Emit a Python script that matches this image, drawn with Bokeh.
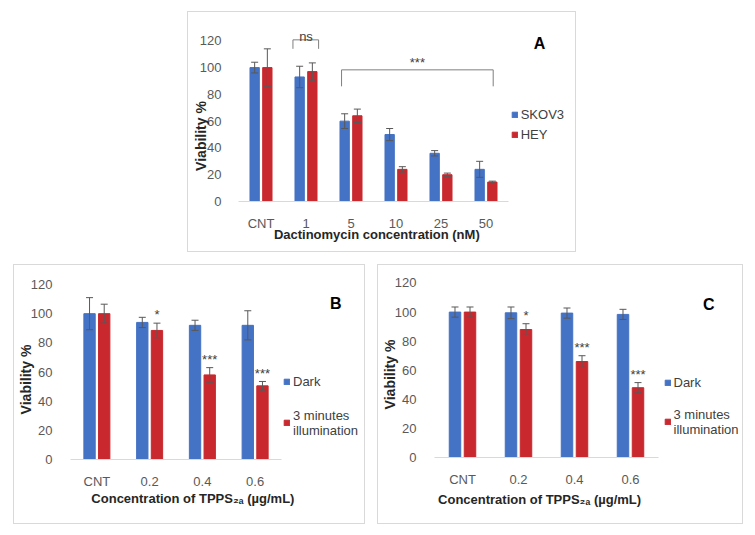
import math
from bokeh.plotting import figure
from bokeh.models import (Range1d, FixedTicker, ColumnDataSource, Whisker, TeeHead,
                          Legend, LegendItem, Label, Spacer, LinearAxis)
from bokeh.layouts import column, row
from bokeh.embed import file_html
from bokeh.resources import INLINE
from bokeh.core.properties import value

# ---------------- data ----------------
a_categories = ["CNT", "1", "5", "10", "25", "50"]
a_skov3 = [100, 93, 60, 50, 36, 24]
a_skov3_err = [4, 8, 5.5, 4.5, 2, 6]
a_hey = [100, 97, 64, 24, 20, 14.5]
a_hey_err = [14, 6.5, 5, 2, 1.2, 0.7]
a_series = ["SKOV3", "HEY"]

b_categories = ["CNT", "0.2", "0.4", "0.6"]
b_dark = [100, 94, 92, 92]
b_dark_err = [11, 3.5, 3.5, 10]
b_light = [100, 88.5, 58, 50.5]
b_light_err = [6.5, 5, 5, 3]
b_stars = ["", "*", "***", "***"]

c_categories = ["CNT", "0.2", "0.4", "0.6"]
c_dark = [100, 99.5, 99.3, 98.4]
c_dark_err = [3.5, 4, 3.5, 3.5]
c_light = [100, 88, 66, 48]
c_light_err = [3.5, 4, 4, 3.5]
c_stars = ["", "*", "***", "***"]

bc_series = ["Dark", "3 minutes\nillumination"]
y_ticks = [0, 20, 40, 60, 80, 100, 120]

BLUE = "#4472C4"
RED = "#C8282E"
ERR = "#595959"
TICK = "#595959"
TITLE = "#262626"
FONT = "Liberation Sans"
TPPS_LABEL = "Concentration of  TPPS\u2082\u2090  (\u00b5g/mL)"


class Panel:
    """A panel whose frame fills its whole box; geometry given in pixels."""

    def __init__(self, cats, W, H, ox, oy, ppc, ppu):
        self.W, self.H, self.ox, self.oy, self.ppc, self.ppu = W, H, ox, oy, ppc, ppu
        self.n = len(cats)
        x0 = -0.5 - ox / ppc
        x1 = -0.5 + (W - ox) / ppc
        y0 = -(H - oy) / ppu
        y1 = oy / ppu
        p = figure(frame_width=W, frame_height=H,
                   x_range=Range1d(x0, x1), y_range=Range1d(y0, y1),
                   output_backend="svg", toolbar_location=None,
                   min_border_left=0, min_border_right=0,
                   min_border_top=0, min_border_bottom=0,
                   x_axis_type=None, y_axis_type=None,
                   background_fill_color="white", border_fill_color="white",
                   styles={"box-shadow": "0 0 0 1px #d9d9d9"})
        p.outline_line_color = None
        p.grid.visible = False
        self.p = p

        xa = LinearAxis(fixed_location=0, bounds=(-0.5, self.n - 0.5),
                        ticker=FixedTicker(ticks=list(range(self.n))),
                        major_label_overrides={i: c for i, c in enumerate(cats)})
        xa.major_tick_line_color = None
        xa.minor_tick_line_color = None
        xa.axis_line_color = "#d9d9d9"
        xa.major_label_standoff = 8
        xa.major_label_text_font = FONT
        xa.major_label_text_font_size = "13px"
        xa.major_label_text_color = TICK
        p.add_layout(xa, "below")
        self.xa = xa

    def yaxis(self, standoff):
        ya = LinearAxis(fixed_location=-0.5, ticker=FixedTicker(ticks=y_ticks))
        ya.axis_line_color = None
        ya.major_tick_line_color = None
        ya.minor_tick_line_color = None
        ya.major_label_standoff = standoff
        ya.major_label_text_font = FONT
        ya.major_label_text_font_size = "13px"
        ya.major_label_text_color = TICK
        self.p.add_layout(ya, "left")

    # pixel (relative to box top-left) -> data
    def dx(self, px):
        return -0.5 + (px - self.ox) / self.ppc

    def dy(self, py):
        return (self.oy - py) / self.ppu

    def bars(self, s1, e1, s2, e2, offset, bar_w):
        p = self.p
        idx = list(range(self.n))
        x1 = [i - offset for i in idx]
        x2 = [i + offset for i in idx]
        src1 = ColumnDataSource(dict(x=x1, top=s1, up=[v + e for v, e in zip(s1, e1)],
                                     lo=[v - e for v, e in zip(s1, e1)]))
        src2 = ColumnDataSource(dict(x=x2, top=s2, up=[v + e for v, e in zip(s2, e2)],
                                     lo=[v - e for v, e in zip(s2, e2)]))
        r1 = p.vbar(x="x", top="top", width=bar_w, source=src1, color=BLUE)
        r2 = p.vbar(x="x", top="top", width=bar_w, source=src2, color=RED)
        for s in (src1, src2):
            w = Whisker(base="x", upper="up", lower="lo", source=s,
                        line_color=ERR, line_width=1, level="annotation",
                        upper_head=TeeHead(size=7, line_color=ERR, line_width=1),
                        lower_head=TeeHead(size=7, line_color=ERR, line_width=1))
            p.add_layout(w)
        self.r1, self.r2, self.x2 = r1, r2, x2

    def legend(self, names, gx, top, spacing, height):
        # gx: glyph-box left (px from box left); top: legend top (px from box top)
        legend = Legend(items=[LegendItem(label=names[0], renderers=[self.r1]),
                               LegendItem(label=names[1], renderers=[self.r2])],
                        location=(gx, self.H - top - height), orientation="vertical",
                        glyph_width=7, glyph_height=7, label_standoff=3,
                        spacing=int(round(spacing)), padding=0, margin=0,
                        label_height=20, border_line_color=None,
                        background_fill_alpha=0,
                        label_text_font=FONT, label_text_font_size="13px",
                        label_text_color="#404040")
        self.p.add_layout(legend)

    def label(self, text, px, py, size, bold=True, angle=0.0, color=TITLE):
        self.p.add_layout(Label(x=self.dx(px), y=self.dy(py), text=text, angle=angle,
                                text_align="center", text_baseline="middle",
                                text_font=FONT, text_font_size=size,
                                text_font_style="bold" if bold else "normal",
                                text_color=color))

    def stars(self, vals, errs, marks):
        self.p.text(x=self.x2, y=[v + e + 0.6 for v, e in zip(vals, errs)], text=marks,
                    text_align="center", text_baseline="bottom", text_font=value(FONT),
                    text_font_size="13px", text_color="#404040")


# ---------------- panel A (box at image x 188, y 12) ----------------
A = Panel(a_categories, 387, 239, 50, 189, 45.0, 1.3392)
A.bars(a_skov3, a_skov3_err, a_hey, a_hey_err, 0.141, 0.207)
A.yaxis(11)
A.legend(a_series, 322.7, 92.2, 0, 40)
A.label("Dactinomycin concentration (nM)", 188.3, 222.3, "13px")
A.label("Viability %", 12.5, 123.5, "14px", angle=math.pi / 2)
A.label("A", 351, 31, "16px", color="#000000")
pA = A.p
i1 = a_categories.index("1")
i5 = a_categories.index("5")
i50 = a_categories.index("50")
pA.line(x=[i1 - 0.29, i1 - 0.29, i1 + 0.28, i1 + 0.28], y=[114, 120.7, 120.7, 114],
        line_color="#7f7f7f", line_width=1)
pA.text(x=[i1], y=[123.5], text=["ns"], text_align="center", text_baseline="alphabetic",
        text_font=value(FONT), text_font_size="13px", text_color="#404040")
xl, xr = i5 - 0.21, i50 + 0.16
pA.line(x=[xl, xl, xr, xr], y=[86, 98.3, 98.3, 86], line_color="#7f7f7f", line_width=1)
pA.text(x=[(xl + xr) / 2], y=[104], text=["***"], text_align="center",
        text_baseline="alphabetic", text_font=value(FONT), text_font_size="13px",
        text_color="#404040")

# ---------------- panel B (box at image x 14, y 265) ----------------
B = Panel(b_categories, 350, 258, 56, 194, 52.75, 1.4583)
B.bars(b_dark, b_dark_err, b_light, b_light_err, 0.139, 0.215)
B.yaxis(12)
B.stars(b_light, b_light_err, b_stars)
B.legend(bc_series, 269, 106.5, 16, 66)
B.label(TPPS_LABEL, 182, 232.5, "13px")
B.label("Viability %", 11.5, 114, "14px", angle=math.pi / 2)
B.label("B", 321.3, 37.7, "16px", color="#000000")

# ---------------- panel C (box at image x 378, y 265) ----------------
C = Panel(c_categories, 364, 258, 56, 192, 56.0, 1.4542)
C.bars(c_dark, c_dark_err, c_light, c_light_err, 0.134, 0.205)
C.yaxis(12)
C.stars(c_light, c_light_err, c_stars)
C.legend(bc_series, 285.5, 107.7, 14, 64)
C.label(TPPS_LABEL, 164.7, 233.5, "13px")
C.label("Viability %", 11, 109, "14px", angle=math.pi / 2)
C.label("C", 330.3, 39.3, "16px", color="#000000")

# page layout: boxes at image (188,12), (14,265), (378,265)
layout = column(
    Spacer(width=10, height=12),
    row(Spacer(width=188, height=239), A.p),
    Spacer(width=10, height=14),
    row(Spacer(width=14, height=258), B.p, Spacer(width=14, height=258), C.p),
)

open("out.html", "w").write(file_html(layout, INLINE))
